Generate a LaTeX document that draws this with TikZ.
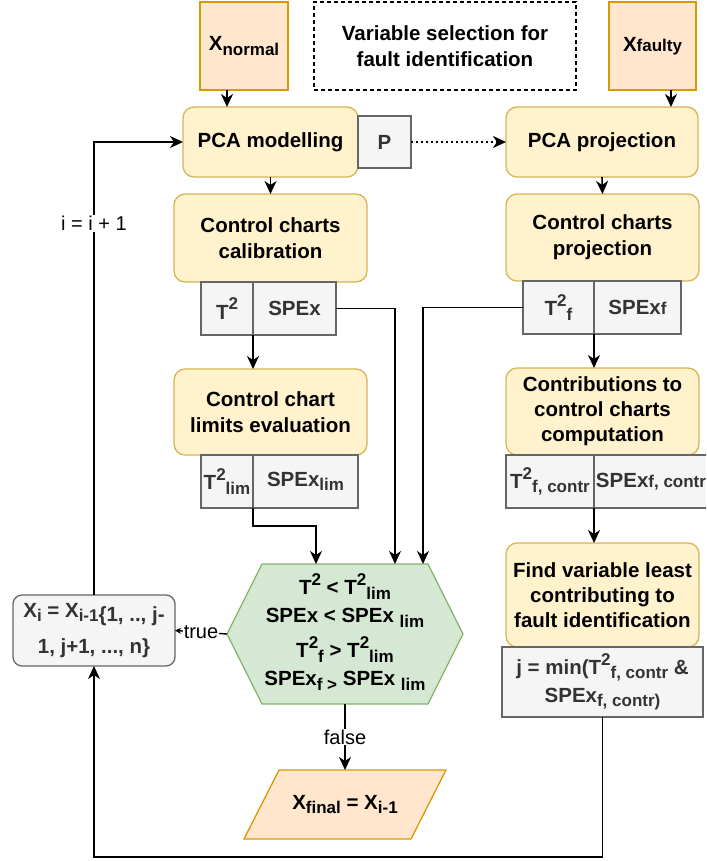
\documentclass[tikz,border=0pt]{standalone}
\usepackage{fontspec}
\setmainfont{Liberation Sans}
\usetikzlibrary{positioning,arrows.meta,backgrounds}

\definecolor{peachfill}{HTML}{FFE6CC}
\definecolor{peachline}{HTML}{D79B00}
\definecolor{yelfill}{HTML}{FFF2CC}
\definecolor{yelline}{HTML}{D6B656}
\definecolor{greyfill}{HTML}{F5F5F5}
\definecolor{greyline}{HTML}{666666}
\definecolor{greytext}{HTML}{333333}
\definecolor{grnfill}{HTML}{D5E8D4}
\definecolor{grnline}{HTML}{82B366}

% small raised / lowered text as in the drawing
\newcommand{\sbs}[1]{\raisebox{-0.4ex}{\fontsize{17}{20}\selectfont #1}}
\newcommand{\sps}[1]{\raisebox{0.85ex}{\fontsize{17}{20}\selectfont #1}}
\newcommand{\sml}[1]{{\fontsize{17}{20}\selectfont #1}}

\begin{document}
\begin{tikzpicture}[
      x=1pt, y=-1pt,
      every node/.style={font=\bfseries\fontsize{20.5}{26}\selectfont,
        align=center, inner sep=0pt, outer sep=0pt},
      iobox/.style={draw=peachline, fill=peachfill, line width=1.3pt},
      procbox/.style={draw=yelline, fill=yelfill, line width=1.3pt, rounded corners=11pt},
      varbox/.style={draw=greyline, fill=greyfill, line width=1.3pt, text=greytext},
      lbl/.style={font=\fontsize{20}{24}\selectfont, fill=white, inner sep=1pt},
      flow/.style={line width=1.6pt, -{Stealth[length=13pt,width=12pt,inset=4pt]}},
      smallflow/.style={line width=1.4pt, -{Stealth[length=6pt,width=6pt]}}
      ]

  \useasboundingbox (0,0) rectangle (706,861);
  \clip (0,0) rectangle (706,861);

  % inputs and title
  \node[iobox, minimum width=88pt, minimum height=88pt] (xnorm) at (244,46) {X\sbs{normal}};
  \node[draw, line width=1.2pt, dash pattern=on 4pt off 3pt,
        minimum width=262pt, minimum height=88pt] (title) at (445,46) {Variable selection for\\fault identification};
  \node[iobox, minimum width=87pt, minimum height=88pt] (xfault) at (652.5,46) {X\sml{faulty}};

  % left column
  \node[procbox, minimum width=175pt, minimum height=70pt] (pcam) at (270.5,142) {PCA modelling};
  \node[varbox, minimum width=53pt, minimum height=52pt, right=0pt of pcam] (pbox) {P};
  \node[procbox, minimum width=193pt, minimum height=88pt] (ccal) at (270.5,238) {Control charts\\calibration};
  \node[varbox, minimum width=52pt, minimum height=53pt] (t2) at (227,308.5) {T\sps{2}};
  \node[varbox, minimum width=83pt, minimum height=53pt, right=0pt of t2] (spex) {SPEx};
  \node[procbox, minimum width=193pt, minimum height=86pt] (cclim) at (270.5,412) {Control chart\\limits evaluation};
  \node[varbox, minimum width=52pt, minimum height=53pt] (t2lim) at (227,481.5) {T\sps{2}\sbs{lim}};
  \node[varbox, minimum width=105pt, minimum height=53pt, right=0pt of t2lim] (spexlim) {SPEx\sbs{lim}};

  % right column
  \node[procbox, minimum width=192pt, minimum height=70pt] (pcap) at (602,142) {PCA projection};
  \node[procbox, minimum width=193pt, minimum height=87pt] (ccproj) at (602.5,237.5) {Control charts\\projection};
  \node[varbox, minimum width=71pt, minimum height=53pt] (t2f) at (558.5,307.5) {T\sps{2}\sbs{f}};
  \node[varbox, minimum width=87pt, minimum height=53pt, right=0pt of t2f] (spexf) {SPEx\sml{f}};
  \node[procbox, minimum width=193pt, minimum height=87pt, font=\bfseries\fontsize{20.5}{25}\selectfont]
        (contr) at (602.5,411.5) {Contributions to\\control charts\\computation};
  \node[varbox, minimum width=88pt, minimum height=53pt] (t2fc) at (550,481.5) {T\sps{2}\sbs{f, contr}};
  \node[varbox, minimum width=114pt, minimum height=53pt, right=0pt of t2fc] (spexfc) {SPEx\sml{f, contr}};
  \node[procbox, minimum width=193pt, minimum height=104pt, font=\bfseries\fontsize{20.5}{25}\selectfont]
        (findv) at (602.5,595) {Find variable least\\contributing to\\fault identification};
  \node[varbox, minimum width=201pt, minimum height=70pt] (jbox) at (602.5,682)
        {j = min(T\sps{2}\sbs{f, contr} \&\\[2pt]SPEx\sbs{f, contr)}};

  % decision and results
  \node[minimum width=236pt, minimum height=140pt, font=\bfseries\fontsize{20.5}{28}\selectfont] (hexa) at (345,632)
        {T\sps{2} < T\sps{2}\sbs{lim}\\SPEx < SPEx \sbs{lim}\\[7pt]T\sps{2}\sbs{f} > T\sps{2}\sbs{lim}\\SPEx\sbs{f >} SPEx \sbs{lim}};
  \node[varbox, rounded corners=9pt, minimum width=162pt, minimum height=71pt] (xi) at (94,630.5)
        {X\sbs{i} = X\sbs{i-1}\raisebox{-0.4ex}{\{1, .., j-}\\[6pt]\raisebox{-0.4ex}{1, j+1, ..., n\}}};
  \node[minimum width=167pt, minimum height=69pt] (xfinal) at (345,804.5) {X\sbs{final} = X\sbs{i-1}};

  \begin{scope}[on background layer]
    \draw[draw=grnline, fill=grnfill, line width=1.3pt] ([yshift=-2pt]hexa.west) -- ([xshift=35pt,yshift=-2pt]hexa.north west)
      -- ([xshift=-35pt,yshift=-2pt]hexa.north east) -- ([yshift=-2pt]hexa.east) -- ([xshift=-35pt,yshift=-2pt]hexa.south east)
      -- ([xshift=35pt,yshift=-2pt]hexa.south west) -- cycle;
    \draw[draw=peachline, fill=peachfill, line width=1.3pt] ([xshift=17.5pt]xfinal.north west)
      -- ([xshift=17.5pt]xfinal.north east) -- ([xshift=-17.5pt]xfinal.south east)
      -- ([xshift=-17.5pt]xfinal.south west) -- cycle;
  \end{scope}

  % Connect the nodes
  \draw[flow] ([xshift=-17pt]xnorm.south) -- ([xshift=-17pt]xnorm.south |- pcam.north);
  \draw[flow] ([xshift=18.5pt]xfault.south) -- ([xshift=18.5pt]xfault.south |- pcap.north);
  \draw[flow, line width=1.2pt, dash pattern=on 1.5pt off 3.5pt] (pbox.east) -- (pcap.west);
  \draw[flow] (pcam.south) -- (ccal.north);
  \draw[flow] (pcap.south) -- (ccproj.north);
  \draw[flow] (t2.south east) -- (t2.south east |- cclim.north);
  \draw[flow] (t2f.south east) -- (t2f.south east |- contr.north);
  \draw[flow] (t2fc.south east) -- (t2fc.south east |- findv.north);
  \draw[flow] (spex.east) -| ([xshift=50pt,yshift=-2pt]hexa.north);
  \draw[flow] (t2f.west) -| ([xshift=78pt,yshift=-2pt]hexa.north);
  \draw[flow] (spexlim.south west) -- ++(0,18) -| ([xshift=-29pt,yshift=-2pt]hexa.north);
  \draw[flow] ([yshift=-2pt]hexa.south) -- node[lbl] {false} (xfinal.north);
  \draw[smallflow] ([yshift=-2pt]hexa.west) -- node[lbl] {true} (xi.east);
  \draw[flow] (xi.north) |- node[lbl, pos=0.41] {i = i + 1} (pcam.west);
  \draw[flow] (jbox.south) -- ++(0,140) -| (xi.south);

\end{tikzpicture}
\end{document}
